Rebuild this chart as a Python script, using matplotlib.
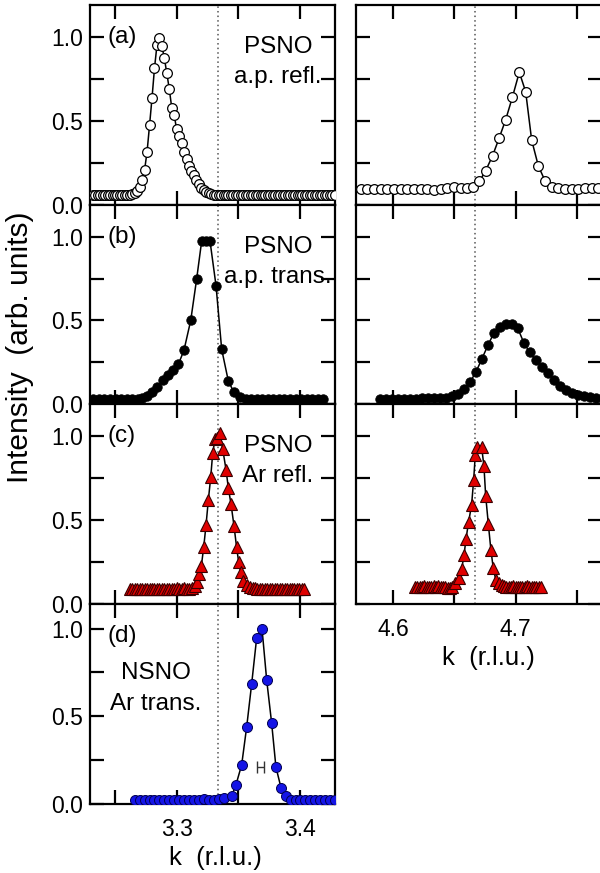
import matplotlib
matplotlib.use('Agg')
import matplotlib.pyplot as plt

plt.rcParams['font.family'] = ['Liberation Sans', 'DejaVu Sans']

# ---------------- data ----------------
k_comm_left = 3.3333
k_comm_right = 4.6667

# (a) PSNO a.p. refl.
k_a_L = [3.232, 3.234, 3.236, 3.238, 3.240, 3.242, 3.244, 3.246, 3.248, 3.250,
         3.252, 3.254, 3.256, 3.258, 3.260, 3.262, 3.264, 3.266, 3.268, 3.270,
         3.272, 3.274, 3.276, 3.278, 3.280, 3.282, 3.284, 3.286, 3.288, 3.290,
         3.292, 3.294, 3.296, 3.298, 3.300, 3.302, 3.304, 3.306, 3.308, 3.310,
         3.312, 3.314, 3.316, 3.318, 3.320, 3.322, 3.324, 3.326, 3.328, 3.330,
         3.332, 3.334, 3.336, 3.338, 3.340, 3.342, 3.344, 3.346, 3.348, 3.350,
         3.352, 3.354, 3.356, 3.358, 3.360, 3.362, 3.364, 3.366, 3.368, 3.370,
         3.372, 3.374, 3.376, 3.378, 3.380, 3.382, 3.384, 3.386, 3.388, 3.390,
         3.392, 3.394, 3.396, 3.398, 3.400, 3.402, 3.404, 3.406, 3.408, 3.410,
         3.412, 3.414, 3.416, 3.418, 3.420, 3.422, 3.424, 3.426, 3.428]
I_a_L = [0.058, 0.058, 0.060, 0.058, 0.058, 0.060, 0.058, 0.058, 0.060, 0.058,
         0.058, 0.060, 0.060, 0.060, 0.062, 0.062, 0.064, 0.070, 0.085, 0.108,
         0.147, 0.210, 0.318, 0.475, 0.637, 0.814, 0.950, 0.994, 0.947, 0.873,
         0.784, 0.690, 0.578, 0.533, 0.450, 0.410, 0.368, 0.314, 0.275, 0.235,
         0.200, 0.176, 0.147, 0.127, 0.104, 0.088, 0.078, 0.069, 0.063, 0.060,
         0.058, 0.058, 0.060, 0.058, 0.058, 0.060, 0.058, 0.058, 0.058, 0.060,
         0.058, 0.058, 0.060, 0.058, 0.058, 0.058, 0.060, 0.058, 0.058, 0.060,
         0.058, 0.058, 0.060, 0.058, 0.058, 0.060, 0.058, 0.058, 0.060, 0.058,
         0.058, 0.060, 0.058, 0.058, 0.060, 0.058, 0.058, 0.060, 0.058, 0.058,
         0.060, 0.058, 0.058, 0.060, 0.060, 0.058, 0.060, 0.060, 0.060]

k_a_R = [4.5733, 4.5787, 4.5842, 4.5896, 4.5950, 4.6005, 4.6060, 4.6114, 4.6169,
         4.6223, 4.6278, 4.6332, 4.6387, 4.6441, 4.6496, 4.6550, 4.6600, 4.6654,
         4.6703, 4.6755, 4.6812, 4.6866, 4.6918, 4.6973, 4.7030, 4.7082, 4.7131,
         4.7185, 4.7240, 4.7294, 4.7349, 4.7403, 4.7458, 4.7512, 4.7567, 4.7621,
         4.7676]
I_a_R = [0.096, 0.096, 0.096, 0.096, 0.096, 0.094, 0.096, 0.098, 0.098,
         0.098, 0.096, 0.090, 0.094, 0.102, 0.106, 0.104, 0.104, 0.110,
         0.140, 0.204, 0.294, 0.400, 0.506, 0.640, 0.790, 0.674, 0.386,
         0.234, 0.144, 0.110, 0.100, 0.096, 0.096, 0.098, 0.100, 0.100,
         0.100]

# (b) PSNO a.p. trans.
k_b_L = [3.2324, 3.2369, 3.2414, 3.2459, 3.2504, 3.2549, 3.2594, 3.2639, 3.2684,
         3.2720, 3.2757, 3.2797, 3.2838, 3.2892, 3.2932, 3.2973, 3.3014, 3.3059,
         3.3114, 3.3162, 3.3203, 3.3238, 3.3270, 3.3319, 3.3365, 3.3419, 3.3465,
         3.3514, 3.3559, 3.3604, 3.3649, 3.3694, 3.3739, 3.3784, 3.3829, 3.3874,
         3.3919, 3.3964, 3.4009, 3.4054, 3.4099, 3.4144, 3.4189]
I_b_L = [0.028, 0.028, 0.028, 0.028, 0.028, 0.028, 0.028, 0.030, 0.032,
         0.038, 0.050, 0.073, 0.099, 0.143, 0.173, 0.202, 0.238, 0.321,
         0.500, 0.748, 0.976, 0.976, 0.976, 0.708, 0.327, 0.137, 0.069,
         0.040, 0.030, 0.028, 0.028, 0.028, 0.028, 0.030, 0.028, 0.028,
         0.028, 0.028, 0.028, 0.028, 0.028, 0.028, 0.028]

k_b_R = [4.5891, 4.5940, 4.5989, 4.6038, 4.6087, 4.6136, 4.6185, 4.6234, 4.6283,
         4.6332, 4.6381, 4.6430, 4.6479, 4.6528, 4.6577, 4.6626, 4.6675, 4.6724,
         4.6773, 4.6822, 4.6871, 4.6920, 4.6969, 4.7018, 4.7067, 4.7116, 4.7165,
         4.7214, 4.7263, 4.7312, 4.7361, 4.7410, 4.7459, 4.7508, 4.7557, 4.7606,
         4.7655]
I_b_R = [0.030, 0.030, 0.030, 0.030, 0.030, 0.030, 0.032, 0.034, 0.034,
         0.034, 0.036, 0.038, 0.046, 0.062, 0.090, 0.130, 0.190, 0.270,
         0.350, 0.425, 0.462, 0.478, 0.478, 0.452, 0.366, 0.308, 0.262,
         0.222, 0.185, 0.146, 0.108, 0.084, 0.064, 0.052, 0.046, 0.040,
         0.036]

# (c) PSNO Ar refl.
k_c_L = [3.262, 3.264, 3.266, 3.268, 3.270, 3.272, 3.274, 3.276, 3.278, 3.280,
         3.282, 3.284, 3.286, 3.288, 3.290, 3.292, 3.294, 3.296, 3.298, 3.300,
         3.302, 3.304, 3.306, 3.308, 3.310,
         3.3125, 3.3150, 3.3168, 3.3184, 3.3200, 3.3219, 3.3238, 3.3257, 3.3276,
         3.3292, 3.3311, 3.3330, 3.3351, 3.3373, 3.3400, 3.3419, 3.3441, 3.3465,
         3.3486, 3.3503, 3.3519, 3.3541, 3.3568, 3.3595,
         3.3615, 3.3635, 3.3655, 3.3675, 3.3695, 3.3715, 3.3735, 3.3755, 3.3775,
         3.3795, 3.3815, 3.3835, 3.3855, 3.3875, 3.3895, 3.3915, 3.3935, 3.3955,
         3.3975, 3.3995, 3.4015, 3.4035]
I_c_L = [0.090, 0.090, 0.090, 0.090, 0.090, 0.090, 0.090, 0.090, 0.090, 0.090,
         0.090, 0.090, 0.090, 0.090, 0.090, 0.092, 0.090, 0.090, 0.092, 0.094,
         0.090, 0.092, 0.094, 0.090, 0.092,
         0.097, 0.110, 0.133, 0.180, 0.226, 0.337, 0.470, 0.620, 0.754,
         0.897, 0.980, 0.986, 1.016, 0.923, 0.800, 0.690, 0.593, 0.464,
         0.337, 0.248, 0.190, 0.137, 0.113, 0.100,
         0.096, 0.094, 0.092, 0.092, 0.090, 0.090, 0.092, 0.090, 0.090,
         0.090, 0.092, 0.090, 0.090, 0.090, 0.090, 0.092, 0.090, 0.090,
         0.090, 0.090, 0.090, 0.088]

k_c_R = [4.6177, 4.6196, 4.6215, 4.6234, 4.6253, 4.6272, 4.6291, 4.6310, 4.6329,
         4.6348, 4.6367, 4.6386, 4.6405, 4.6424, 4.6443, 4.6462, 4.6481,
         4.6504, 4.6534, 4.6559, 4.6578, 4.6594, 4.6616, 4.6640, 4.6657, 4.6670,
         4.6687, 4.6722, 4.6741, 4.6755, 4.6777, 4.6798, 4.6817, 4.6839, 4.6866,
         4.6885, 4.6904, 4.6923, 4.6942, 4.6961, 4.6980, 4.6999, 4.7018, 4.7037,
         4.7056, 4.7075, 4.7094, 4.7113, 4.7132, 4.7151, 4.7170, 4.7189, 4.7208]
I_c_R = [0.104, 0.104, 0.104, 0.104, 0.106, 0.104, 0.104, 0.104, 0.106,
         0.104, 0.106, 0.104, 0.104, 0.100, 0.098, 0.096, 0.100,
         0.126, 0.154, 0.210, 0.290, 0.386, 0.490, 0.590, 0.740, 0.886,
         0.934, 0.934, 0.820, 0.644, 0.474, 0.320, 0.214, 0.140, 0.124,
         0.112, 0.108, 0.104, 0.104, 0.104, 0.106, 0.104, 0.104, 0.104,
         0.104, 0.104, 0.106, 0.104, 0.104, 0.104, 0.104, 0.104, 0.100]

# (d) NSNO Ar trans.
k_d = [3.266, 3.270, 3.274, 3.278, 3.282, 3.286, 3.290, 3.294, 3.298, 3.302,
       3.306, 3.310, 3.314, 3.318, 3.322, 3.326, 3.330, 3.334, 3.338,
       3.3446, 3.3481, 3.3527, 3.3568, 3.3608, 3.3649, 3.3692, 3.3730, 3.3770,
       3.3805, 3.3846, 3.3884, 3.3924,
       3.3964, 3.4004, 3.4044, 3.4084, 3.4124, 3.4164, 3.4204, 3.4244, 3.4284]
I_d = [0.020, 0.020, 0.020, 0.020, 0.020, 0.020, 0.020, 0.020, 0.020, 0.020,
       0.020, 0.020, 0.020, 0.022, 0.030, 0.024, 0.024, 0.028, 0.035,
       0.045, 0.110, 0.223, 0.441, 0.684, 0.949, 1.000, 0.706, 0.462,
       0.210, 0.093, 0.044, 0.025,
       0.020, 0.020, 0.020, 0.020, 0.020, 0.020, 0.020, 0.020, 0.020]

res_k, res_I, res_halfwidth = 3.368, 0.21, 0.0028

# ---------------- figure ----------------
W, H = 600, 873
fig = plt.figure(figsize=(W / 100, H / 100), dpi=100)


def rect(x0, x1, y0, y1):
    return [x0 / W, 1 - y1 / H, (x1 - x0) / W, (y1 - y0) / H]


rows = [(5, 205), (205, 404), (404, 604), (604, 804)]
LX = (90, 335)
RX = (356, 602)


def style(ax, left, show_x, ylim):
    for s in ax.spines.values():
        s.set_linewidth(1.6)
    ax.tick_params(direction='in', length=10, width=1.6, top=True, right=True,
                   labelsize=16.5)
    ax.tick_params(axis='y', pad=5)
    ax.tick_params(axis='x', pad=10)
    ax.set_ylim(*ylim)
    ax.set_yticks([0, 0.25, 0.5, 0.75, 1.0])
    if left:
        ax.set_xlim(3.2297, 3.4284)
        ax.set_xticks([3.25, 3.30, 3.35, 3.40])
        ax.set_xticklabels(['', '3.3', '', '3.4'] if show_x else [''] * 4)
        ax.set_yticklabels(['0.0', '', '0.5', '', '1.0'])
        ax.axvline(k_comm_left, color='#555555', ls=(0, (1, 2)), lw=1.1, zorder=1)
    else:
        ax.set_xlim(4.5695, 4.7706)
        ax.set_xticks([4.60, 4.65, 4.70, 4.75])
        ax.set_xticklabels(['4.6', '', '4.7', ''] if show_x else [''] * 4)
        ax.set_yticklabels([''] * 5)
        ax.axvline(k_comm_right, color='#555555', ls=(0, (1, 2)), lw=1.1, zorder=1)


open_c = dict(marker='o', ms=7.0, mfc='white', mec='black', mew=0.9,
              color='black', lw=1.1)
fill_c = dict(marker='o', ms=6.8, mfc='black', mec='black', mew=0.6,
              color='black', lw=1.1)
tri = dict(marker='^', ms=8.6, mfc='#e00000', mec='#3a0000', mew=0.8,
           color='black', lw=1.1)
blue_c = dict(marker='o', ms=7.2, mfc='#1414e6', mec='#000050', mew=0.7,
              color='black', lw=1.1)

ylim_std = (0.01, 1.19)

# left column
axa = fig.add_axes(rect(*LX, *rows[0]))
axa.plot(k_a_L, I_a_L, zorder=3, **open_c)
style(axa, True, False, ylim_std)

axb = fig.add_axes(rect(*LX, *rows[1]))
axb.plot(k_b_L, I_b_L, zorder=3, **fill_c)
style(axb, True, False, ylim_std)

axc = fig.add_axes(rect(*LX, *rows[2]))
axc.plot(k_c_L, I_c_L, zorder=3, **tri)
style(axc, True, False, ylim_std)

axd = fig.add_axes(rect(*LX, *rows[3]))
axd.plot(k_d, I_d, zorder=3, **blue_c)
axd.errorbar([res_k], [res_I], xerr=[res_halfwidth], fmt='none', ecolor='#333333',
             elinewidth=1.0, capsize=4.6, capthick=1.0, zorder=3)
style(axd, True, True, (0.007, 1.14))
axd.set_xlabel('k  (r.l.u.)', fontsize=18.5, labelpad=4)
axd.xaxis.label.set_x(0.514)

# right column
axa2 = fig.add_axes(rect(*RX, *rows[0]))
axa2.plot(k_a_R, I_a_R, zorder=3, **open_c)
style(axa2, False, False, ylim_std)

axb2 = fig.add_axes(rect(*RX, *rows[1]))
axb2.plot(k_b_R, I_b_R, zorder=3, **fill_c)
style(axb2, False, False, ylim_std)

axc2 = fig.add_axes(rect(*RX, *rows[2]))
axc2.plot(k_c_R, I_c_R, zorder=3, **tri)
style(axc2, False, True, ylim_std)
axc2.set_xlabel('k  (r.l.u.)', fontsize=18.5, labelpad=4)
axc2.xaxis.label.set_x(0.537)

# panel annotations
fs = 17.5
for ax, lab, l1, l2 in [(axa, '(a)', 'PSNO', 'a.p. refl.'),
                        (axb, '(b)', 'PSNO', 'a.p. trans.'),
                        (axc, '(c)', 'PSNO', 'Ar refl.')]:
    ax.text(0.073, 0.81, lab, transform=ax.transAxes, fontsize=fs,
            ha='left', va='baseline')
    ax.text(0.767, 0.76, l1, transform=ax.transAxes, fontsize=fs,
            ha='center', va='baseline')
    ax.text(0.767, 0.61, l2, transform=ax.transAxes, fontsize=fs,
            ha='center', va='baseline')

axd.text(0.073, 0.81, '(d)', transform=axd.transAxes, fontsize=fs,
         ha='left', va='baseline')
axd.text(0.27, 0.623, 'NSNO', transform=axd.transAxes, fontsize=fs,
         ha='center', va='baseline')
axd.text(0.27, 0.472, 'Ar trans.', transform=axd.transAxes, fontsize=fs,
         ha='center', va='baseline')

fig.text(20 / W, 1 - 347 / H, 'Intensity  (arb. units)', rotation=90,
         fontsize=21.5, ha='center', va='center')

fig.savefig('out.png', dpi=100)
